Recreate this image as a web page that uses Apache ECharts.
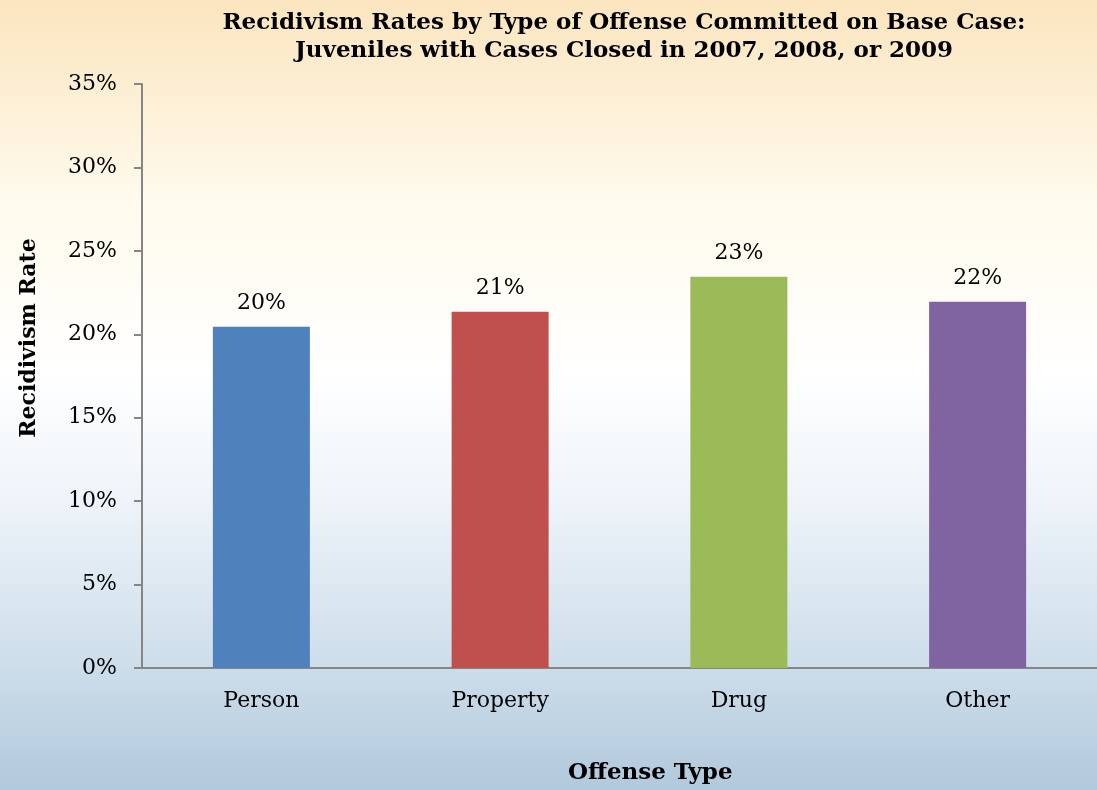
<!DOCTYPE html>
<html>
<head>
<meta charset="utf-8">
<script src="https://cdn.jsdelivr.net/npm/echarts@6/dist/echarts.min.js"></script>
<style>html,body{margin:0;padding:0;}#c{width:1097px;height:790px;}</style>
</head>
<body>
<div id="c"></div>
<script>
const categories = ['Person', 'Property', 'Drug', 'Other'];
const rates = [20.45, 21.35, 23.45, 21.95];
const barColors = ['#4f81bd', '#c0504d', '#9bbb59', '#8064a2'];
const yTicks = [0, 5, 10, 15, 20, 25, 30, 35];

const FONT = '"DejaVu Serif", "Liberation Serif", serif';
const chart = echarts.init(document.getElementById('c'));
chart.setOption({
  backgroundColor: {
    type: 'linear', x: 0, y: 0, x2: 0, y2: 1,
    colorStops: [
      { offset: 0, color: '#fbe5bf' },
      { offset: 0.25, color: '#fffaec' },
      { offset: 0.47, color: '#ffffff' },
      { offset: 0.62, color: '#f0f5fa' },
      { offset: 0.82, color: '#d1e0ec' },
      { offset: 1, color: '#b1c9dc' }
    ]
  },
  animation: false,
  title: {
    text: 'Recidivism Rates by Type of Offense Committed on Base Case:\nJuveniles with Cases Closed in 2007, 2008, or 2009',
    left: 619, top: 4, textAlign: 'center',
    textStyle: { fontFamily: FONT, fontWeight: 'bold', fontSize: 23, lineHeight: 28, color: '#000' }
  },
  grid: { left: 142, top: 84, width: 961, bottom: 122, containLabel: false },
  xAxis: {
    type: 'category', data: categories,
    axisLine: { lineStyle: { color: '#868686', width: 2 } },
    axisTick: { show: false },
    axisLabel: { fontFamily: FONT, fontSize: 22, color: '#000', margin: 22 }
  },
  yAxis: {
    type: 'value', min: 0, max: 35, interval: 5,
    axisLine: { show: true, lineStyle: { color: '#868686', width: 2 } },
    axisTick: { show: true, length: 8, lineStyle: { color: '#868686', width: 2 } },
    splitLine: { show: false },
    axisLabel: {
      fontFamily: FONT, fontSize: 22, color: '#000', margin: 25,
      formatter: v => (yTicks.indexOf(v) >= 0 ? v + '%' : '')
    }
  },
  graphic: [
    { type: 'text', left: 568, top: 762, style: { text: 'Offense Type', fontFamily: FONT, fontWeight: 'bold', fontSize: 23, fill: '#000' } },
    { type: 'text', x: 18, y: 338, rotation: Math.PI / 2,
      style: { text: 'Recidivism Rate', fontFamily: FONT, fontWeight: 'bold', fontSize: 22, fill: '#000', align: 'center', verticalAlign: 'top' } }
  ],
  series: [{
    type: 'bar',
    data: rates.map((v, i) => ({ value: v, itemStyle: { color: barColors[i] } })),
    barWidth: 97,
    label: {
      show: true, position: 'top', distance: 12,
      fontFamily: FONT, fontSize: 22, color: '#000',
      formatter: p => Math.round(p.value) + '%'
    }
  }]
});
</script>
</body>
</html>
